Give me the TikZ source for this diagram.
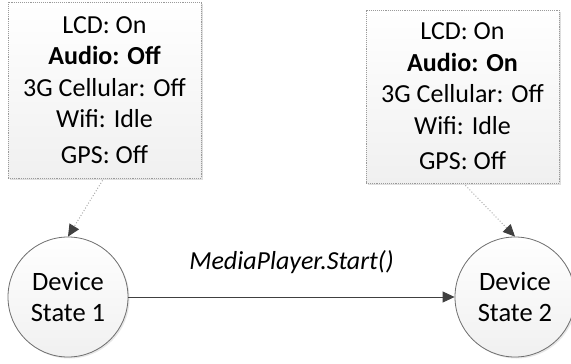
\documentclass[tikz,border=0pt]{standalone}
\usepackage{fontspec}
\setmainfont{Carlito}
\usetikzlibrary{arrows.meta,shadows}
\definecolor{boxline}{HTML}{9A9A9A}
\definecolor{boxfill}{HTML}{F0F0F0}
\definecolor{stateline}{HTML}{6E6E6E}
\definecolor{arrowcol}{HTML}{404040}
\tikzset{
  infobox/.style={rectangle, draw=boxline, densely dotted, line width=0.9pt,
    top color=white, bottom color=boxfill, align=center, inner sep=0pt,
    font=\fontsize{26}{31.5}\selectfont,
    drop shadow={shadow xshift=1.5pt, shadow yshift=-1.5pt, opacity=0.25}},
  statenode/.style={circle, draw=stateline, line width=0.8pt, minimum size=120pt,
    top color=white, bottom color=boxfill, align=center, inner sep=0pt,
    font=\fontsize{26.5}{31}\selectfont,
    drop shadow={shadow xshift=1.5pt, shadow yshift=-1.5pt, opacity=0.2}},
  notelink/.style={-{Triangle[length=12pt,width=11pt,color=arrowcol,fill=arrowcol]},
    draw=boxline, dotted, line width=0.9pt},
  transition/.style={-{Triangle[length=12pt,width=11pt,color=arrowcol,fill=arrowcol]},
    draw=arrowcol, line width=0.9pt},
}
\begin{document}
\begin{tikzpicture}[x=1pt,y=-1pt]
  \useasboundingbox (0,0) rectangle (571,364);
  % state annotations
  \node[infobox, minimum width=193pt, minimum height=176pt] (b1) at (104.5,90)
    {LCD: On\\ \textbf{Audio: Off}\\ 3G Cellular: Off\\ Wifi: Idle\\[4pt] GPS: Off};
  \node[infobox, minimum width=193pt, minimum height=173pt] (b2) at (462.5,96.5)
    {LCD: On\\ \textbf{Audio: On}\\ 3G Cellular: Off\\ Wifi: Idle\\[4pt] GPS: Off};
  % device states
  \node[statenode] (c1) at (68,297) {Device\\State 1};
  \node[statenode] (c2) at (515,297) {Device\\State 2};
  % links from annotations to states
  \draw[notelink] ([xshift=-2pt,yshift=-2pt]b1.south) -- (c1.north);
  \draw[notelink] ([xshift=3pt,yshift=-2pt]b2.south) -- (c2.north);
  % transition
  \draw[transition] (c1) -- (c2)
    node[midway, above=20pt, font=\fontsize{26}{31}\selectfont\itshape, text=black] (lbl) {MediaPlayer.Start()};
\end{tikzpicture}
\end{document}
